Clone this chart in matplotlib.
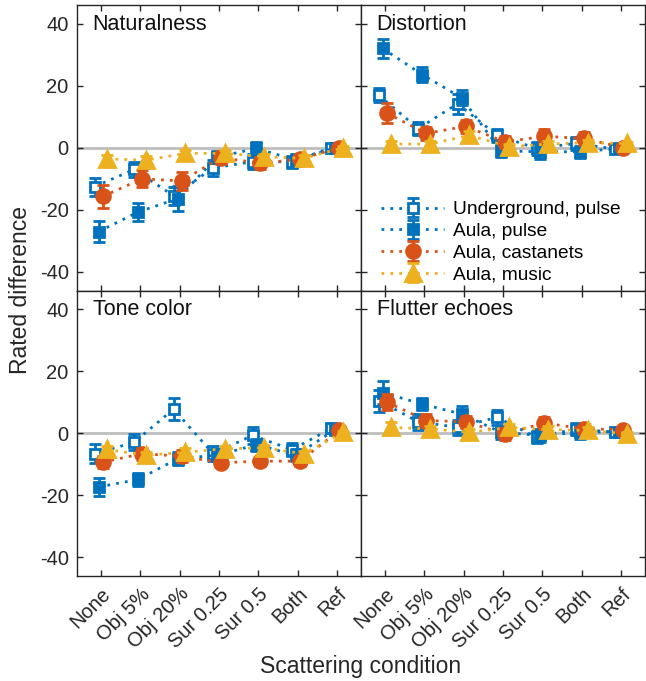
import matplotlib
matplotlib.use("Agg")
import matplotlib.pyplot as plt
import numpy as np

plt.rcParams['font.family'] = ['Liberation Sans', 'DejaVu Sans']

conditions = ["None", "Obj 5%", "Obj 20%", "Sur 0.25", "Sur 0.5", "Both", "Ref"]
panels = ["Naturalness", "Distortion", "Tone color", "Flutter echoes"]
series_names = ["Underground, pulse", "Aula, pulse", "Aula, castanets", "Aula, music"]

# Means per panel, per series (order: Underground pulse, Aula pulse, Aula castanets, Aula music)
naturalness = [
    [-12.5, -7.0, -15.5, -6.5, -4.5, -4.5, 0.0],
    [-27.0, -20.7, -16.4, -3.0, -0.2, -4.0, 0.0],
    [-15.7, -10.0, -10.7, -3.2, -5.0, -3.7, 0.0],
    [-3.6, -4.0, -1.8, -1.8, -2.9, -3.4, 0.0],
]
distortion = [
    [16.9, 6.2, 14.2, 4.0, -0.2, 1.4, -0.4],
    [32.0, 23.6, 16.1, -1.0, -1.3, -1.3, -0.2],
    [11.2, 4.6, 6.9, 1.9, 3.7, 3.0, 0.0],
    [1.2, 1.2, 4.0, 0.3, 1.2, 1.6, 1.4],
]
tone_color = [
    [-6.6, -2.9, 7.8, -6.6, -0.7, -5.3, 1.6],
    [-17.3, -14.9, -8.2, -7.1, -3.7, -7.1, 1.2],
    [-9.3, -6.6, -7.4, -9.5, -9.0, -9.0, 0.9],
    [-5.2, -7.1, -6.1, -5.0, -4.7, -6.6, 0.3],
]
flutter = [
    [10.5, 3.7, 1.9, 5.1, -1.3, 1.4, 0.3],
    [13.1, 9.4, 6.2, 0.3, -0.7, 0.3, 0.5],
    [10.1, 4.1, 3.7, -0.2, 3.3, 1.4, 1.2],
    [1.9, 1.4, 0.3, 1.9, 1.2, 0.9, -0.2],
]
# Error half-widths
naturalness_err = [
    [2.9, 2.5, 3.0, 2.5, 2.5, 2.0, 1.0],
    [3.5, 2.9, 4.0, 2.0, 2.0, 2.0, 1.0],
    [3.7, 2.7, 2.9, 2.0, 2.0, 1.5, 0.8],
    [1.2, 1.2, 1.2, 1.0, 1.0, 1.0, 0.5],
]
distortion_err = [
    [2.3, 2.2, 3.2, 2.0, 2.0, 2.0, 0.8],
    [3.2, 2.4, 2.4, 2.0, 2.2, 2.0, 0.8],
    [3.1, 2.2, 2.0, 2.0, 2.5, 2.0, 0.8],
    [1.0, 1.0, 1.5, 1.0, 1.0, 1.0, 0.5],
]
tone_color_err = [
    [3.0, 2.5, 3.5, 2.5, 2.8, 2.0, 1.0],
    [2.9, 2.0, 2.0, 2.0, 2.0, 2.0, 1.0],
    [2.0, 2.0, 2.0, 1.5, 1.5, 1.5, 0.8],
    [1.2, 1.2, 1.2, 1.0, 1.0, 1.0, 0.5],
]
flutter_err = [
    [3.5, 2.5, 2.5, 2.5, 2.0, 2.0, 0.8],
    [3.8, 2.0, 2.5, 2.0, 2.0, 2.0, 0.8],
    [2.5, 2.0, 2.0, 2.0, 2.0, 1.5, 0.8],
    [1.8, 1.0, 1.0, 1.0, 1.0, 1.0, 0.5],
]
panel_data = [naturalness, distortion, tone_color, flutter]
panel_err = [naturalness_err, distortion_err, tone_color_err, flutter_err]
ytick_vals = [-40, -20, 0, 20, 40]
ytick_labels = ["-40", "-20", "0", "20", "40"]

blue = "#0072BD"
orange = "#D95319"
yellow = "#EDB120"
colors = [blue, blue, orange, yellow]
markers = ["s", "s", "o", "^"]
facecolors = ["white", blue, orange, yellow]
msizes = [7.5, 7.5, 10, 12]
offsets = [-0.15, -0.05, 0.05, 0.15]

fig = plt.figure(figsize=(6.46, 6.81), dpi=100)
L, R, T, B = 77 / 646, 645 / 646, 1 - 5 / 681, 1 - 576 / 681
W = (R - L) / 2
H = (T - B) / 2
positions = [(L, B + H), (L + W, B + H), (L, B), (L + W, B)]

x = np.arange(1, len(conditions) + 1)
spine_col = "#262626"
for pi, (pos, name) in enumerate(zip(positions, panels)):
    ax = fig.add_axes([pos[0], pos[1], W, H])
    ax.axhline(0, color="#BDBDBD", lw=2, zorder=0)
    for si in range(4):
        ax.errorbar(x + offsets[si], panel_data[pi][si], yerr=panel_err[pi][si],
                    color=colors[si], marker=markers[si], ms=msizes[si],
                    mfc=facecolors[si], mec=colors[si], mew=2,
                    linestyle=(0, (1, 2.2)), lw=2, elinewidth=2, capsize=4.5, capthick=2,
                    label=series_names[si], zorder=2 + si)
    ax.set_xlim(0.4, 7.6)
    ax.set_ylim(-46, 46)
    ax.set_yticks(ytick_vals)
    ax.set_xticks(x)
    ax.tick_params(direction="in", top=True, right=True, length=4.5, width=1,
                   color=spine_col, labelsize=14.5, labelcolor="#262626", pad=6)
    for sp in ax.spines.values():
        sp.set_color(spine_col)
        sp.set_linewidth(1)
    if pi in (0, 2):
        ax.set_yticklabels(ytick_labels)
    else:
        ax.set_yticklabels([])
    if pi in (2, 3):
        ax.set_xticklabels(conditions, rotation=45, ha="right", rotation_mode="anchor")
    else:
        ax.set_xticklabels([])
    ax.text(0.055, 0.97, name, transform=ax.transAxes, fontsize=15.5,
            va="top", ha="left", color="#111111")
    if pi == 1:
        ax.legend(loc="lower left", bbox_to_anchor=(0.03, -0.015), frameon=False,
                  fontsize=13.8, handlelength=3.3, handletextpad=0.45,
                  labelspacing=0.22, borderaxespad=0.2)

fig.text(0.031, B + H, "Rated difference", rotation=90, va="center", ha="center",
         fontsize=16.5, color="#262626")
fig.text(L + W, 0.022, "Scattering condition", va="center", ha="center",
         fontsize=16.5, color="#262626")

fig.savefig("out.png", dpi=100)
